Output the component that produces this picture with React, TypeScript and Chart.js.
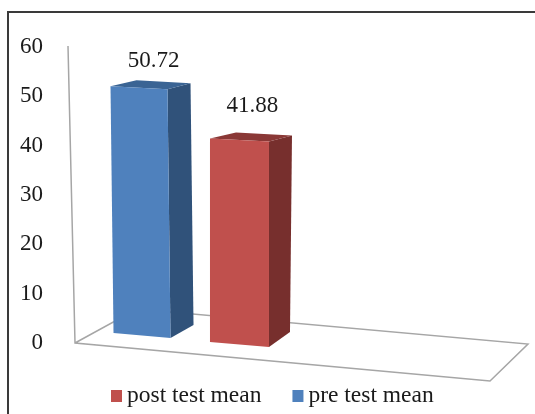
import React, { useEffect, useRef } from "react";
import { Chart, registerables } from "chart.js";

Chart.register(...registerables);

const categories = ["mean", ""];
const preTestValues = [50.72, null];
const postTestValues = [41.88, null];
const yTicks = [0, 10, 20, 30, 40, 50, 60];

const SERIF = '"Liberation Serif", serif';
const BLUE = { front: "#4f81bd", side: "#30527a", top: "#3a6494" };
const RED = { front: "#c0504d", side: "#772f2d", top: "#8a3836" };
const INK = "#1a1a1a";

// Draws the frame and the 3D floor and wall behind the bars.
const roomPlugin = {
  id: "room",
  beforeDatasetsDraw(chart: any) {
    const { ctx, chartArea, scales } = chart;
    const y0 = scales.y.getPixelForValue(0);
    const yMax = scales.y.getPixelForValue(60);
    const l = chartArea.left;
    ctx.save();
    ctx.strokeStyle = "#3a3a3a";
    ctx.lineWidth = 2;
    ctx.beginPath();
    ctx.moveTo(8, chart.height);
    ctx.lineTo(8, 12);
    ctx.lineTo(chart.width, 12);
    ctx.stroke();

    ctx.strokeStyle = "#a6a6a6";
    ctx.lineWidth = 1.5;
    ctx.beginPath();
    ctx.moveTo(l - 7, yMax - 1);
    ctx.lineTo(l, y0);
    ctx.lineTo(l + 415, y0 + 38);
    ctx.lineTo(l + 453, y0 + 1);
    ctx.lineTo(l + 62, y0 - 34);
    ctx.lineTo(l, y0);
    ctx.stroke();
    ctx.restore();
  },
};

// Extrudes each bar element into a box and writes its value above it.
const boxPlugin = {
  id: "box",
  afterDatasetsDraw(chart: any) {
    const { ctx } = chart;
    const looks = [
      { c: BLUE, shift: -7.5, topX: 0, bottomX: 3, grow: 0, sideBottom: [23, -13], labelDy: -27 },
      { c: RED, shift: 1.5, topX: 1.5, bottomX: 1.5, grow: 1, sideBottom: [21, -15], labelDy: -34 },
    ];
    chart.data.datasets.forEach((ds: any, i: number) => {
      const el = chart.getDatasetMeta(i).data[0];
      const look = looks[i];
      const half = el.width / 2 + look.grow;
      const bottom = el.base + look.shift;
      const top = bottom - (el.base - el.y) * 0.99;
      const tl = { x: el.x - half + look.topX, y: top - 1.5 };
      const tr = { x: el.x + half + look.topX, y: top + 1.5 };
      const bl = { x: el.x - half + look.bottomX, y: bottom - 2.5 };
      const br = { x: el.x + half + look.bottomX, y: bottom + 2.5 };
      const poly = (color: string, pts: { x: number; y: number }[]) => {
        ctx.fillStyle = color;
        ctx.beginPath();
        pts.forEach((p, k) => (k ? ctx.lineTo(p.x, p.y) : ctx.moveTo(p.x, p.y)));
        ctx.closePath();
        ctx.fill();
      };
      const tbr = { x: tr.x + 23, y: tr.y - 6 };
      const tbl = { x: tl.x + 26, y: tl.y - 6 };
      const bbr = { x: br.x + look.sideBottom[0], y: br.y + look.sideBottom[1] };
      ctx.save();
      poly(look.c.side, [tr, tbr, bbr, br]);
      poly(look.c.top, [tl, tbl, tbr, tr]);
      poly(look.c.front, [tl, tr, br, bl]);
      ctx.fillStyle = INK;
      ctx.font = `23px ${SERIF}`;
      ctx.textAlign = "center";
      ctx.textBaseline = "middle";
      ctx.fillText(Number(ds.data[0]).toFixed(2), el.x + 14.5, top + look.labelDy);
      ctx.restore();
    });
  },
};

// Legend row under the floor: square swatch, tight gap, then the series name.
const legendRowPlugin = {
  id: "legendRow",
  afterDraw(chart: any) {
    const { ctx } = chart;
    const rows = [
      { text: chart.data.datasets[1].label, color: RED.front },
      { text: chart.data.datasets[0].label, color: BLUE.front },
    ];
    let x = 111;
    ctx.save();
    ctx.font = `23.5px ${SERIF}`;
    ctx.textBaseline = "middle";
    ctx.textAlign = "left";
    rows.forEach((row) => {
      ctx.fillStyle = row.color;
      ctx.fillRect(x, 390, 11, 12);
      ctx.fillStyle = INK;
      ctx.fillText(row.text, x + 16, 396);
      x += 16 + ctx.measureText(row.text).width + 31;
    });
    ctx.restore();
  },
};

export default function App() {
  const ref = useRef<HTMLCanvasElement>(null);
  useEffect(() => {
    const chart = new Chart(ref.current!, {
      type: "bar",
      data: {
        labels: categories,
        datasets: [
          { label: "pre test mean", data: preTestValues, backgroundColor: "rgba(0,0,0,0)" },
          { label: "post test mean", data: postTestValues, backgroundColor: "rgba(0,0,0,0)" },
        ],
      },
      options: {
        animation: false,
        responsive: false,
        layout: { padding: { top: 47, bottom: 71, left: 0, right: 6 } },
        categoryPercentage: 0.872,
        barPercentage: 0.576,
        scales: {
          x: { display: false },
          y: {
            min: 0,
            max: 60,
            afterBuildTicks: (axis: any) => {
              axis.ticks = yTicks.map((value) => ({ value }));
            },
            afterFit: (axis: any) => {
              axis.width = 75;
            },
            grid: { display: false, drawTicks: false },
            border: { display: false },
            ticks: {
              padding: 32,
              color: INK,
              font: { family: SERIF, size: 23 },
            },
          },
        },
        plugins: {
          tooltip: { enabled: false },
          legend: { display: false },
        },
      } as any,
      plugins: [roomPlugin, boxPlugin, legendRowPlugin],
    });
    return () => chart.destroy();
  }, []);
  return (
    <canvas
      ref={ref}
      width={535}
      height={414}
      style={{ position: "fixed", left: 0, top: 0, background: "#fff" }}
    />
  );
}
